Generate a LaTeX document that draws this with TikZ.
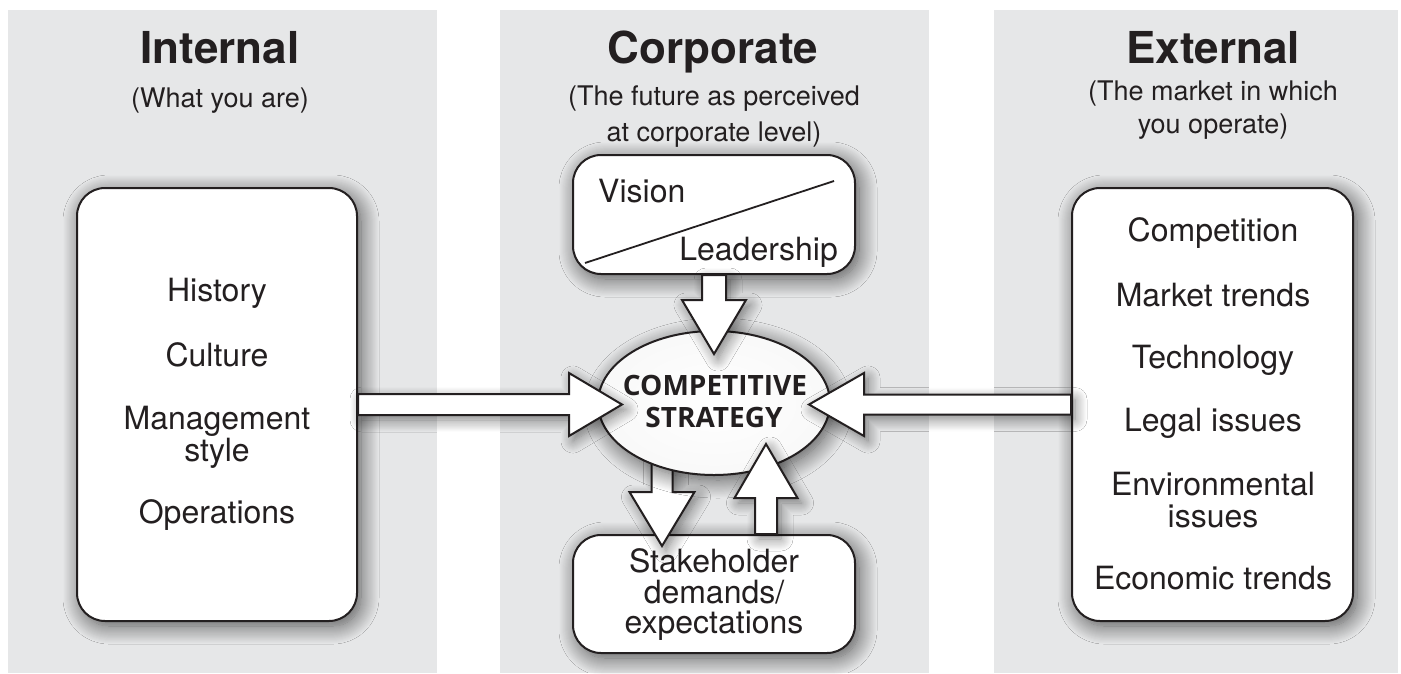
\documentclass[tikz,border=0pt]{standalone}
\usepackage{fontspec}
\setmainfont{TeX Gyre Heros}
\newfontfamily\condfont{Open Sans}
\usetikzlibrary{calc,shadows.blur,shapes.geometric}
\definecolor{panel}{HTML}{E6E7E8}
\definecolor{ink}{HTML}{231F20}
\tikzset{
  panelbox/.style={fill=panel, draw=none},
  softshadow/.style={blur shadow={shadow xshift=4pt, shadow yshift=-5pt, shadow blur radius=18pt, shadow opacity=65, shadow blur steps=18}},
  roundbox/.style={draw=ink, line width=2pt, fill=white, rounded corners=28pt, inner sep=0pt, softshadow},
  ovalbox/.style={ellipse, draw=ink, line width=2pt, inner color=white, outer color=gray!5, inner sep=0pt, softshadow},
  barrow/.style={draw=ink, line width=2pt, fill=white, line join=miter,
    blur shadow={shadow xshift=4pt, shadow yshift=-5pt, shadow blur radius=12pt, shadow opacity=50, shadow blur steps=12}},
  titletxt/.style={text=ink, font=\fontsize{44}{46}\selectfont\bfseries, inner sep=0pt, anchor=base},
  subtxt/.style={text=ink, font=\fontsize{27}{30}\selectfont, inner sep=0pt, anchor=base},
  bodytxt/.style={text=ink, font=\fontsize{32}{33}\selectfont, inner sep=0pt, anchor=base},
  coretxt/.style={text=ink, font=\condfont\fontsize{28}{30}\selectfont\bfseries, inner sep=0pt, anchor=base},
}
% #1 name, #2 start, #3 tip, #4 shaft half width, #5 head half width, #6 head length
\newcommand\blockarrow[6]{%
  \coordinate (#1b) at ($(#3)!#6!(#2)$);
  \path[barrow] ($(#2)!#4!90:(#3)$) -- ($(#1b)!#4!90:(#3)$) -- ($(#1b)!#5!90:(#3)$) -- (#3)
    -- ($(#1b)!#5!-90:(#3)$) -- ($(#1b)!#4!-90:(#3)$) -- ($(#2)!#4!-90:(#3)$) -- cycle;
}
\begin{document}
\begin{tikzpicture}[x=1pt,y=-1pt]
\useasboundingbox (0,0) rectangle (1401,673);
% panels
\path[panelbox] (8,10) rectangle (437,673);
\path[panelbox] (500,10) rectangle (929,673);
\path[panelbox] (994,10) rectangle (1398,673);
% headings
\node[titletxt] (t1) at (220,63) {Internal};
\node[subtxt] (s1) at (220,107) {(What you are)};
\node[titletxt] (t2) at (713,63) {Corporate};
\node[subtxt] (s2a) at (714,105) {(The future as perceived};
\node[subtxt] (s2b) at (714,141) {at corporate level)};
\node[titletxt] (t3) at (1213,63) {External};
\node[subtxt] (s3a) at (1213,100) {(The market in which};
\node[subtxt] (s3b) at (1213,133) {you operate)};
% boxes
\node[roundbox, minimum width=280pt, minimum height=433pt] (L) at (217,404.5) {};
\node[roundbox, minimum width=281pt, minimum height=433pt] (R) at (1212.5,404.5) {};
\node[roundbox, minimum width=282pt, minimum height=119pt] (V) at (714,214.5) {};
\node[roundbox, minimum width=282pt, minimum height=118pt] (S) at (714,594) {};
% box texts
\node[bodytxt] (l1) at (217,301) {History};
\node[bodytxt] (l2) at (217,366) {Culture};
\node[bodytxt] (l3) at (217,429) {Management};
\node[bodytxt] (l4) at (217,461) {style};
\node[bodytxt] (l5) at (217,523) {Operations};
\node[bodytxt] (r1) at (1213,241) {Competition};
\node[bodytxt] (r2) at (1213,306) {Market trends};
\node[bodytxt] (r3) at (1213,368) {Technology};
\node[bodytxt] (r4) at (1213,431) {Legal issues};
\node[bodytxt] (r5) at (1213,495) {Environmental};
\node[bodytxt] (r6) at (1213,527) {issues};
\node[bodytxt] (r7) at (1213,589) {Economic trends};
\node[bodytxt, anchor=base west] (v1) at (598,202) {Vision};
\node[bodytxt, anchor=base east] (v2) at (838,260) {Leadership};
\coordinate (d1) at ($(V.south west)+(13,-12)$);
\coordinate (d2) at ($(V.north east)+(-22,27)$);
\draw[ink, line width=1.8pt] (d1) -- (d2);
\node[bodytxt] (k1) at (714,572) {Stakeholder};
\node[bodytxt] (k2) at (714,603) {demands/};
\node[bodytxt] (k3) at (714,633) {expectations};
% ellipse (coordinates used by arrows)
\path (714,403) coordinate (Ec);
\coordinate (dS) at ($(Ec)+(-52,40)$);
\coordinate (dT) at ($(S.north)+(-52,12)$);
\blockarrow{da}{dS}{dT}{10.5pt}{32.5pt}{54pt}
\node[ovalbox, minimum width=232pt, minimum height=144pt] (E) at (Ec) {};
\node[coretxt] (c1) at (715,395) {COMPETITIVE};
\node[coretxt] (c2) at (714,427) {STRATEGY};
% arrows into the ellipse
\coordinate (tT) at ($(E.north)+(0,24)$);
\blockarrow{ta}{V.south}{tT}{12pt}{32pt}{54pt}
\coordinate (lT) at ($(E.west |- L.east)+(25,0)$);
\blockarrow{la}{L.east}{lT}{10.5pt}{31.5pt}{53pt}
\coordinate (rT) at ($(E.east |- R.west)+(-22,0)$);
\blockarrow{ra}{R.west}{rT}{10pt}{31.5pt}{55pt}
\coordinate (uS) at ($(S.north)+(52,0)$);
\coordinate (uT) at ($(E.south)+(52,-32)$);
\blockarrow{ua}{uS}{uT}{11pt}{31.5pt}{54pt}
\end{tikzpicture}
\end{document}
